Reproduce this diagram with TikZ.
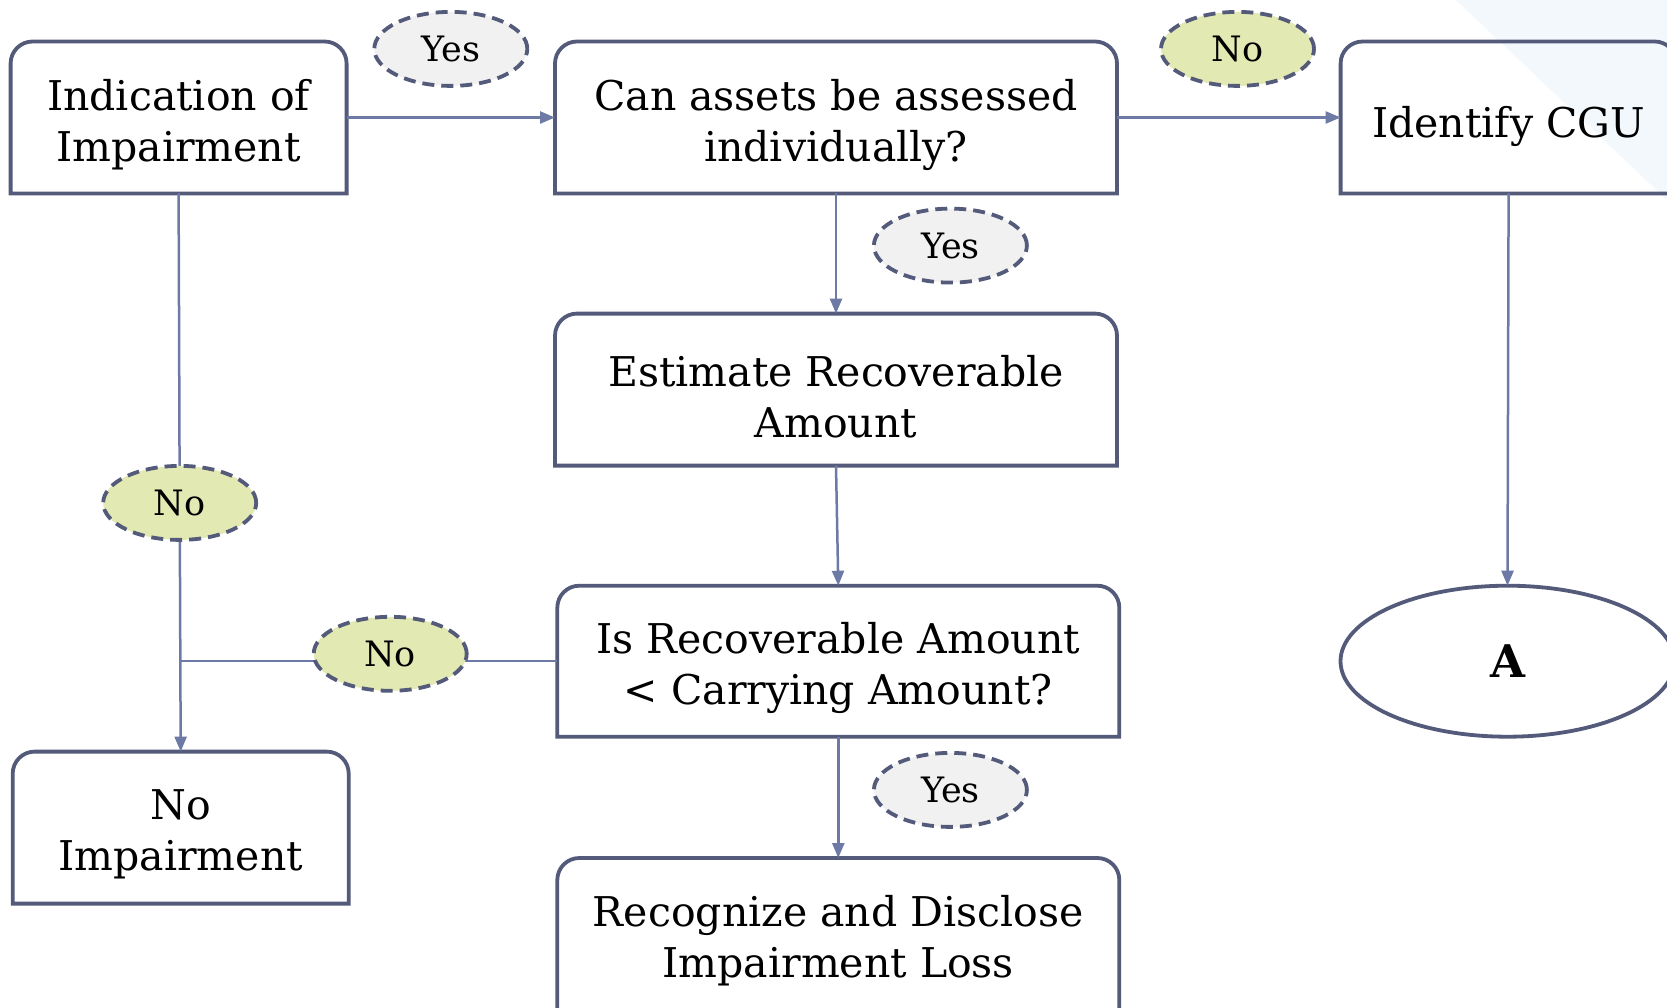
\documentclass[tikz,border=0pt]{standalone}
\usepackage{fontspec}
\setmainfont{DejaVu Serif}
\usetikzlibrary{shapes.geometric,arrows.meta,calc}

\definecolor{boxedge}{RGB}{84,90,122}
\definecolor{linkc}{RGB}{110,122,166}
\definecolor{yesfill}{RGB}{241,241,241}
\definecolor{nofill}{RGB}{227,233,178}
\definecolor{tint}{RGB}{242,248,252}

\tikzset{
  boxshape/.style={draw=none, inner sep=0pt, outer sep=0pt},
  boxtxt/.style={inner sep=0pt, outer sep=0pt, align=center,
    font=\fontsize{41}{51}\selectfont},
  decision/.style={ellipse, inner sep=0pt, outer sep=0pt,
    draw=boxedge, dashed, dash pattern=on 12pt off 7pt, line width=3.8pt,
    minimum width=153pt, minimum height=74pt,
    font=\fontsize{35}{40}\selectfont},
  yeslabel/.style={decision, fill=yesfill},
  nolabel/.style={decision, fill=nofill},
  link/.style={draw=linkc, line width=2.5pt},
  flow/.style={link, -{Triangle[length=15pt,width=12pt]}},
  frame/.style={draw=boxedge, line width=3.8pt}
}

% box with rounded top corners and square bottom corners
\newcommand{\topround}[1]{%
  \draw[frame] (#1.south west)
    -- ([yshift=-22pt]#1.north west)
    arc[start angle=180,end angle=90,radius=22pt]
    -- ([xshift=-22pt]#1.north east)
    arc[start angle=90,end angle=0,radius=22pt]
    -- (#1.south east) -- cycle;}

\begin{document}
\begin{tikzpicture}[x=1pt,y=-1pt]
\useasboundingbox (0,0) rectangle (1667,1008);
\clip (0,0) rectangle (1667,1008);
\fill[white] (0,0) rectangle (1667,1008);

% light tinted corner
\fill[tint] (1456,0) -- (1667,0) -- (1667,200) -- cycle;

% process boxes
\node[boxshape, minimum width=336pt, minimum height=152pt] (ind) at (178.6,117.5) {};
\node[boxshape, minimum width=562pt, minimum height=152pt] (can) at (836,117.5) {};
\node[boxshape, minimum width=336pt, minimum height=152pt] (cgu) at (1508.6,117.5) {};
\node[boxshape, minimum width=562pt, minimum height=152pt] (est) at (836,389.6) {};
\node[boxshape, minimum width=562pt, minimum height=151pt] (isra) at (838.3,661.2) {};
\node[boxshape, minimum width=562pt, minimum height=152pt] (rec) at (838.3,934) {};
\node[boxshape, minimum width=336pt, minimum height=152pt] (nou) at (180.7,827.6) {};

\foreach \b in {ind,can,cgu,est,isra,rec,nou} {\topround{\b}}

% box texts
\node[boxtxt] (ind-t) at ([yshift=-7pt]ind.center) {Indication of\\Impairment};
\node[boxtxt] (can-t) at ([yshift=-7pt]can.center) {Can assets be assessed\\individually?};
\node[boxtxt] (cgu-t) at ([yshift=-9pt]cgu.center) {Identify CGU};
\node[boxtxt] (est-t) at ([yshift=-7pt]est.center) {Estimate Recoverable\\Amount};
\node[boxtxt] (isra-t) at ([yshift=-7pt]isra.center) {Is Recoverable Amount\\< Carrying Amount?};
\node[boxtxt] (rec-t) at ([yshift=-7pt]rec.center) {Recognize and Disclose\\Impairment Loss};
\node[boxtxt] (nou-t) at ([yshift=-7pt]nou.center) {No\\Impairment};

% connector A
\node[ellipse, draw=boxedge, line width=3.8pt, inner sep=0pt, outer sep=0pt,
  minimum width=334pt, minimum height=151pt,
  font=\bfseries\fontsize{45}{50}\selectfont] (A) at (1507.5,661.2) {A};

% connectors
\draw[flow] (ind.east) -- (can.west);
\draw[flow] (can.east) -- (cgu.west);
\draw[flow] (can.south) -- (est.north);
\draw[flow] (est.south) -- (isra.north);
\draw[flow] (isra.south) -- (rec.north);
\draw[flow] (cgu.south) -- (A.north);

\coordinate (split) at (179.7,661.2);
\draw[link] (ind.south) -- (179.7,502.9);
\draw[flow] (179.7,502.9) -- (nou.north);
\draw[link] (isra.west) -- (split);

% decision labels
\node[yeslabel] (y1) at (450.8,48.9) {Yes};
\node[nolabel] (n1) at (1237.5,48.9) {No};
\node[yeslabel] (y2) at (950.4,245.6) {Yes};
\node[nolabel] (n2) at (179.7,502.9) {No};
\node[nolabel] (n3) at (390.2,653.8) {No};
\node[yeslabel] (y3) at (950.4,789.9) {Yes};
\end{tikzpicture}
\end{document}
